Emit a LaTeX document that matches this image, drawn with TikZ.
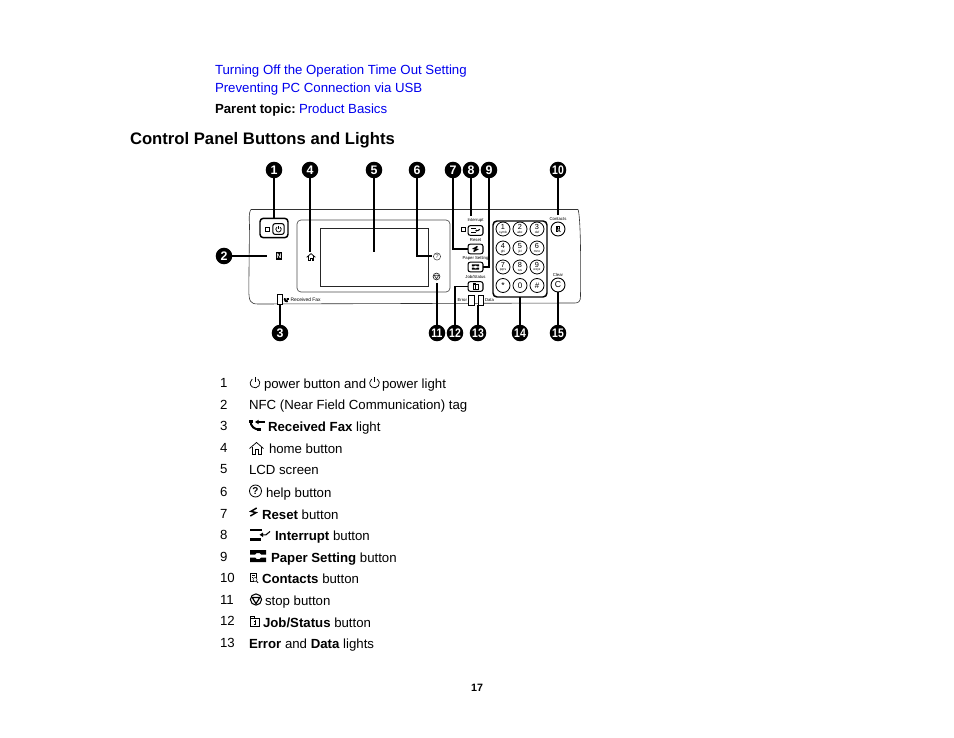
\documentclass[tikz,border=0pt]{standalone}
\usepackage{graphicx}
\usepackage{fontspec}
\setmainfont{Liberation Sans}
\definecolor{linkblue}{RGB}{0,0,238}
\newcommand{\two}[1]{\scalebox{.84}[1]{#1}}
\tikzset{
 every node/.style={inner sep=0pt,outer sep=0pt},
 txt/.style={anchor=base west,font=\fontsize{9.92}{12}\selectfont},
 lnk/.style={txt,text=linkblue},
 callout/.style={circle,fill=black,text=white,minimum size=12.4pt,font=\fontsize{9.3}{10}\selectfont\bfseries},
 lead/.style={line width=1.1pt,black},
 panel/.style={line width=.45pt,black!80},
 btn/.style={draw,rounded corners=1.6pt,line width=.8pt,fill=white,minimum width=11.2pt,minimum height=7.2pt},
 rbtn/.style={draw,circle,line width=.7pt,fill=white,minimum size=10.5pt},
 key/.style={draw,circle,line width=.6pt,minimum size=10.5pt},
 tiny/.style={font=\fontsize{3.2}{4}\selectfont},
 tinyb/.style={font=\fontsize{3.7}{4}\selectfont},
 lamp/.style={draw,line width=.7pt,fill=white},
 pics/pwr/.style={code={
   \draw[line width=.55pt] (0,0)++(-55:4.4) arc[start angle=-55,end angle=235,radius=4.4];
   \draw[line width=.55pt] (0,-5.6)--(0,-.6);}},
 pics/homeic/.style={code={
   \draw[line width=.55pt,line join=miter] (-7,0.5)--(0,-5.5)--(7,0.5);
   \draw[line width=.55pt] (-4.6,-1)--(-4.6,6)--(-1.4,6)--(-1.4,1.5)--(1.4,1.5)--(1.4,6)--(4.6,6)--(4.6,-1);}},
 pics/helpic/.style={code={
   \draw[line width=.6pt] (0,0) circle (6);
   \node[font=\fontsize{7.5}{8}\selectfont\bfseries] at (0,0) {?};}},
 pics/helpsm/.style={code={
   \draw[line width=.4pt,black!75] (0,0) circle (3.6);
   \node[font=\fontsize{4.5}{5}\selectfont,text=black!75] at (0,0) {?};}},
 pics/resetic/.style={code={
   \draw[line width=1.1pt] (4,-5)--(-3.2,-.8)--(3.2,.8)--(-4,5);}},
 pics/interruptic/.style={code={
   \fill (-10,-5.5) rectangle (2,-3.5);
   \fill (-10,3.5) rectangle (1,6);
   \draw[line width=.8pt] (10,-3)--(6,.3)--(1,.3);
   \fill (-.5,.3)--(3,-2)--(3,2.5)--cycle;}},
 pics/paperic/.style={code={
   \fill (-8,-6)--(8,-6)--(8,-1.5)--(3,-1.5)--(1.5,-3)--(-1.5,-3)--(-3,-1.5)--(-8,-1.5)--cycle;
   \fill (-8,6)--(8,6)--(8,1.5)--(3,1.5)--(1.5,3)--(-1.5,3)--(-3,1.5)--(-8,1.5)--cycle;}},
 pics/contactic/.style={code={
   \draw[line width=.35pt] (-3.4,-4.6)--(2,-4.6)--(2,-.5) (-3.4,-4.6)--(-3.4,3.5)--(-.5,3.5);
   \draw[line width=.35pt] (1,1.5) circle (2);
   \draw[line width=.6pt] (2.4,3)--(4,4.8);
   \draw[line width=.3pt] (-1.8,-2.5)--(.6,-2.5) (-1.8,-.8)--(-.6,-.8);}},
 pics/stopic/.style={code={
   \draw[line width=.8pt] (0,0) circle (5.6);
   \draw[line width=.9pt,line join=round,fill=white] (-3.8,-2)--(3.8,-2)--(0,4.2)--cycle;}},
 pics/stopsm/.style={code={
   \draw[line width=.55pt,black!80] (0,0) circle (3.4);
   \draw[line width=.5pt,black!80,line join=round] (-2.2,-1.2)--(2.2,-1.2)--(0,2.4)--cycle;}},
 pics/jobic/.style={code={
   \draw[line width=.35pt] (-5,-4)--(5,-4)--(5,5)--(-5,5)--cycle;
   \draw[line width=.35pt] (-5,-4)--(-5,-5.5)--(-1,-5.5)--(-1,-4);
   \draw[line width=.6pt] (0,-2.2)--(0,-1.2) (-1,.2)--(0,.2)--(0,3.5) (-1.4,3.5)--(1.4,3.5);}},
 pics/faxic/.style={code={
   \draw[line width=1.5pt] (-6,-4.5) .. controls (-6,2) and (-2,4.5) .. (3.5,4.5);
   \fill (-7.5,-5.5) rectangle (-3.8,-2);
   \fill (0.5,3) rectangle (4.5,6);
   \draw[line width=.9pt] (8,-3)--(0,-3);
   \fill (-1.5,-3)--(2,-5.2)--(2,-.8)--cycle;}},
}
\begin{document}
\begin{tikzpicture}[x=.75pt,y=-.75pt]
\useasboundingbox (0,0) rectangle (954,738);

% header text
\node[lnk] (l1) at (215,75) {Turning Off the Operation Time Out Setting};
\node[lnk] (l2) at (215,93) {Preventing PC Connection via USB};
\node[txt,font=\fontsize{9.92}{12}\selectfont\bfseries] (l3) at (215,114) {Parent topic:};
\node[lnk] (l4) at (299,114) {Product Basics};
\node[anchor=base west,font=\fontsize{12.5}{14}\selectfont\bfseries] (head) at (130,144.5) {Control Panel Buttons and Lights};

% panel outline
\draw[panel] (249.5,225) .. controls (249,217) and (249,212) .. (251,209.5)
  -- (578,209.5) .. controls (580.5,215) and (581,260) .. (580.5,296)
  .. controls (580.5,301) and (579,303) .. (575,303) -- (258,304)
  .. controls (250,304) and (249,301) .. (248.8,290) -- cycle;
\node[draw,rounded corners=3pt,line width=.5pt,black!70,minimum width=114.75pt,minimum height=54pt] (bezel) at (373.5,256) {};
\node[draw,line width=.6pt,black!85,minimum width=81pt,minimum height=43.5pt] (screen) at (374,257) {};

% power group
\node[draw,rounded corners=2.5pt,line width=1.1pt,minimum width=21pt,minimum height=14.5pt] (pwrbox) at (274,228) {};
\node[draw,line width=.7pt,minimum size=3pt] (pwrlamp) at (267.5,229) {};
\node[btn,minimum width=8.4pt,minimum height=8pt] (pwrbtn) at (278.5,229) {};
\pic[scale=.62] at (278.5,229.3) {pwr};

% nfc
\node[fill=black,minimum width=4.5pt,minimum height=6pt,text=white,font=\fontsize{5}{5}\selectfont\bfseries] (nfc) at (279,256) {N};

% received fax
\node[lamp,minimum width=3.6pt,minimum height=6.8pt] (faxlamp) at (280,299.5) {};
\pic[scale=.32] at (286.5,300) {faxic};
\node[anchor=west,tinyb] (faxlbl) at (290.5,300) {Received Fax};

% home, help, stop
\coordinate (homec) at (310,252);
\pic[scale=.62] at (311,257) {homeic};
\coordinate (helpc) at (432,256);
\pic at (437,256.5) {helpsm};
\coordinate (stopc) at (437,283);
\pic at (436.5,276.5) {stopsm};
\coordinate (lcdc) at (374,252);

% middle buttons
\node[tiny] (lint) at (475.5,220.5) {Interrupt};
\node[lamp,minimum size=3pt] (intlamp) at (463.5,229) {};
\node[btn] (intbtn) at (475.5,230.5) {};
\pic[scale=.42] at (475.5,230.5) {interruptic};
\node[tiny] (lrst) at (475.5,240.5) {Reset};
\node[btn] (rstbtn) at (475.5,249) {};
\pic[scale=.5] at (475.5,249) {resetic};
\node[tiny] (lpap) at (475.5,258) {Paper Setting};
\node[btn] (papbtn) at (475.5,267) {};
\pic[scale=.45] at (475.5,267) {paperic};
\node[tiny] (ljob) at (475.5,277) {Job/Status};
\node[btn] (jobbtn) at (475.5,286.5) {};
\pic[scale=.55] at (475.5,286.5) {jobic};

% lights
\node[lamp,minimum width=5pt,minimum height=7pt] (errlamp) at (471.5,300.5) {};
\node[lamp,minimum width=3.8pt,minimum height=7pt] (datlamp) at (480.5,300.5) {};
\node[anchor=east,tiny] (lerr) at (467,300.5) {Error};
\node[anchor=west,tiny] (ldat) at (485,300.5) {Data};
\coordinate (lightc) at (478,305);

% keypad
\node[draw,rounded corners=3pt,line width=1.1pt,minimum width=40.5pt,minimum height=57pt] (keypad) at (520,259) {};
\foreach \n/\d/\s/\x/\y in {k1/1/symb/503/229,k2/2/abc/520/229,k3/3/def/537/229,
  k4/4/ghi/503/248,k5/5/jkl/520/248,k6/6/mno/537/248,
  k7/7/pqrs/503/267,k8/8/tuv/520/267,k9/9/wxyz/537/267}{
  \node[key] (\n) at (\x,\y) {};
  \node[font=\fontsize{5.5}{6}\selectfont] (\n t) at (\x,\y-1.6) {\d};
  \node[font=\fontsize{2.4}{3}\selectfont] (\n s) at (\x,\y+3.2) {\s};
}
\node[key,font=\fontsize{6.5}{7}\selectfont] (kst) at (503,285.5) {*};
\node[key,font=\fontsize{6}{7}\selectfont] (k0) at (520,285.5) {0};
\node[key,font=\fontsize{6}{7}\selectfont] (kh) at (537,285.5) {\#};

% contacts, clear
\node[tiny] (lcon) at (558,219) {Contacts};
\node[rbtn] (conbtn) at (558,229) {};
\pic[scale=.6] at (558,229) {contactic};
\node[tiny] (lclr) at (558,275) {Clear};
\node[rbtn,font=\fontsize{6.5}{7}\selectfont] (clrbtn) at (558,285) {C};

% callouts
\foreach \n/\t/\x/\y in {c1/1/274/170,c2/2/224/256,c3/3/280/333,c4/4/310/170,c5/5/374/170,
  c6/6/417/170,c7/7/453/170,c8/8/471/170,c9/9/489/170,c10/\two{10}/558/170,
  c11/\two{11}/437/333,c12/\two{12}/455/333,c13/\two{13}/478/333,c14/\two{14}/520/333,c15/\two{15}/558/333}{
  \node[callout] (\n) at (\x,\y) {\t};
}
\draw[lead] (c1) -- (pwrbox);
\draw[lead] (c2) -- (267,256);
\draw[lead] (c3) -- (faxlamp);
\draw[lead] (c4) -- (homec);
\draw[lead] (c5) -- (lcdc);
\draw[lead] (c6) |- (helpc);
\draw[lead] (c7) |- (rstbtn);
\draw[lead] (c8) -- (471,216);
\draw[lead] (c9) |- (papbtn);
\draw[lead] (c10) -- (558,215);
\draw[lead] (c11) -- (stopc);
\draw[lead] (c12) |- (jobbtn);
\draw[lead] (c13) -- (lightc);
\draw[lead] (c14) -- (keypad);
\draw[lead] (c15) -- (clrbtn);

% numbered list
\foreach \n/\t/\y in {n1/1/387,n2/2/409,n3/3/430,n4/4/452,n5/5/473,n6/6/496,n7/7/518,n8/8/539,n9/9/561,
  n10/10/582,n11/11/604,n12/12/625,n13/13/647}{
  \node[txt] (\n) at (220,\y) {\t};
}
\pic[scale=1.1] at (255,383) {pwr};
\node[txt] (t1a) at (264,388) {power button and};
\pic[scale=1.1] at (374.5,383) {pwr};
\node[txt] (t1b) at (382,388) {power light};
\node[txt] (t2) at (249,409) {NFC (Near Field Communication) tag};
\pic at (256.5,425) {faxic};
\node[txt] (t3) at (268,431) {\textbf{Received Fax} light};
\pic at (256.5,448) {homeic};
\node[txt] (t4) at (269,453) {home button};
\node[txt] (t5) at (249,474) {LCD screen};
\pic at (255.5,491) {helpic};
\node[txt] (t6) at (266,497) {help button};
\pic[scale=.8] at (253.5,512) {resetic};
\node[txt] (t7) at (262,519) {\textbf{Reset} button};
\pic at (260,534.5) {interruptic};
\node[txt] (t8) at (275,540) {\textbf{Interrupt} button};
\pic at (258,556) {paperic};
\node[txt] (t9) at (271,562) {\textbf{Paper Setting} button};
\pic at (254,578) {contactic};
\node[txt] (t10) at (262,583) {\textbf{Contacts} button};
\pic at (256,599.5) {stopic};
\node[txt] (t11) at (265,605) {stop button};
\pic[scale=.9] at (255,621.5) {jobic};
\node[txt] (t12) at (263,627) {\textbf{Job/Status} button};
\node[txt] (t13) at (249,648) {\textbf{Error} and \textbf{Data} lights};

% page number
\node[anchor=base,font=\fontsize{8}{10}\selectfont\bfseries] (pg) at (477,691) {17};
\end{tikzpicture}
\end{document}
